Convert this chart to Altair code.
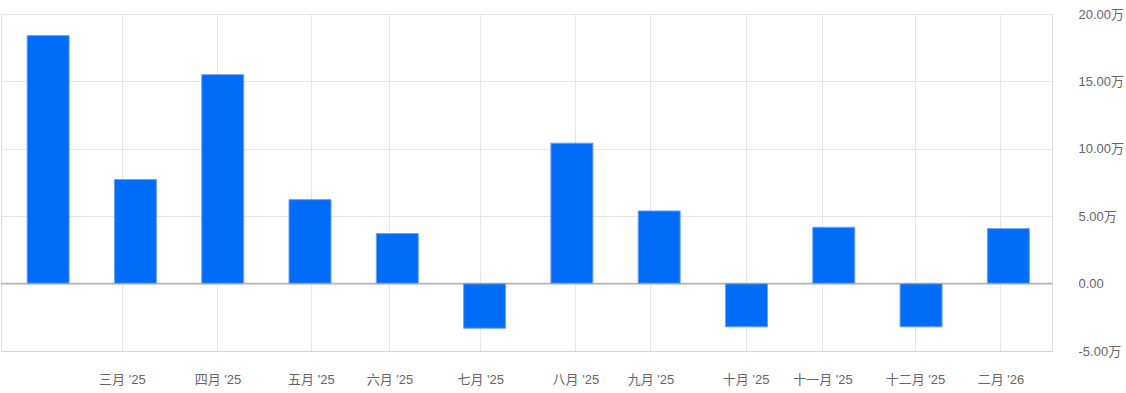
import altair as alt
import pandas as pd

# Bar values (in units of 1; axis shows 万 = 10,000)
bar_index = list(range(12))
bar_values = [184000, 77200, 155000, 62300, 37100, -33100, 104200, 53900, -32100, 41800, -32100, 40800]

# Month tick labels and their positions on the bar-index axis
tick_positions = [0.845, 1.94, 3.01, 3.91, 4.95, 6.04, 6.90, 7.99, 8.87, 9.93, 10.91]
tick_labels = ["三月 '25", "四月 '25", "五月 '25", "六月 '25", "七月 '25", "八月 '25",
               "九月 '25", "十月 '25", "十一月 '25", "十二月 '25", "二月 '26"]

y_ticks = [-50000, 0, 50000, 100000, 150000, 200000]

df = pd.DataFrame({"i": bar_index, "v": bar_values})

label_map = "{" + ",".join(f"'{p}':\"{l}\"" for p, l in zip(tick_positions, tick_labels)) + "}"
FONT = "'Liberation Sans', Arial, 'Noto Sans CJK SC', sans-serif"

x_scale = alt.Scale(domain=[-0.54, 11.5], nice=False, zero=False, padding=0)
y_scale = alt.Scale(domain=[-50000, 200000], nice=False, padding=0)

bars = alt.Chart(df).mark_bar(
    color="#006cf7", stroke="#6fa3f0", strokeWidth=1, width=42
).encode(
    x=alt.X("i:Q", scale=x_scale, axis=alt.Axis(
        values=tick_positions,
        labelExpr=f"{label_map}[datum.value + '']",
        grid=True, gridColor="#e6e6e6", gridWidth=1,
        ticks=False, domain=True, domainColor="#ccd6eb", domainWidth=1,
        labelPadding=22, labelFontSize=13, labelColor="#666666", labelFont=FONT,
        labelBaseline="top",
        title=None,
    )),
    y=alt.Y("v:Q", scale=y_scale, axis=alt.Axis(
        orient="right", values=y_ticks,
        labelExpr="datum.value == 0 ? '0.00' : replace(format(datum.value / 10000, '.2f'), '\u2212', '-') + '万'",
        grid=True, gridColor="#e6e6e6", gridWidth=1,
        ticks=False, domain=False,
        labelPadding=26, labelFontSize=13, labelColor="#666666", labelFont=FONT,
        title=None,
    )),
)

zero = alt.Chart(pd.DataFrame({"z": [0]})).mark_rule(
    color="#a0a0a0", strokeWidth=1.5, opacity=0.8
).encode(y=alt.Y("z:Q", scale=y_scale))

chart = alt.layer(bars, zero).properties(
    width=1051, height=337,
    autosize=alt.AutoSizeParams(type="none"),
    padding={"left": 1, "top": 14, "right": 74, "bottom": 42},
).configure_view(stroke=None).configure(background="white")

chart.save("out.html", embed_options={"renderer": "svg", "actions": False})
